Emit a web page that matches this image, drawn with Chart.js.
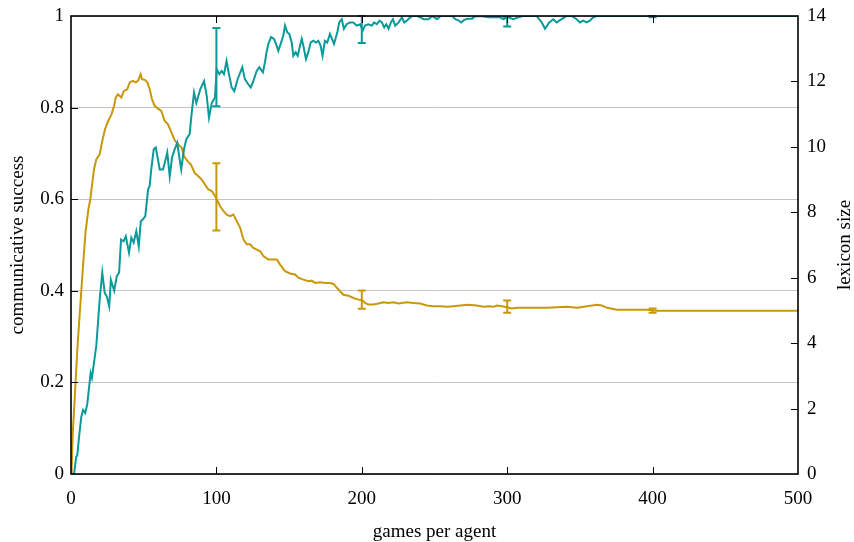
<!DOCTYPE html>
<html>
<head>
<meta charset="utf-8">
<script src="https://cdn.jsdelivr.net/npm/chart.js@4.4.0/dist/chart.umd.min.js"></script>
<style>
html,body{margin:0;padding:0;background:#fff;}
#wrap{width:854px;height:542px;}
</style>
</head>
<body>
<div id="wrap"><canvas id="c" width="854" height="542"></canvas></div>
<script>
// ---- data ----
const successGames = [0,2.1,3.6,4.3,5.5,7.1,8.3,9.8,11.2,13.5,14.4,17.4,19.7,21.5,23.2,24.6,26.3,27.4,29.7,31.5,33.1,34.4,36.2,37.7,39.9,41.5,43.1,44.9,46.6,48.0,49.5,51.1,53.0,54.1,55.2,56.9,58.3,59.8,61.0,63.3,65.1,66.2,67.9,69.5,71.3,73.1,74.7,75.8,77.7,79.3,81.6,82.8,84.6,86.2,88.9,91.5,93.3,94.9,96.8,99.0,100.2,102.0,103.6,105.2,107.0,108.2,110.5,112.3,114.6,117.8,119.6,121.9,123.6,125.4,127.7,129.5,132.0,133.4,134.5,135.7,137.6,139.6,141.0,142.6,144.2,146.0,147.2,148.8,150.1,151.8,152.9,154.5,155.9,157.5,158.7,159.8,161.6,163.2,164.8,166.6,168.5,170.1,171.7,173.0,174.6,176.2,178.1,180.9,183.2,184.5,186.2,187.7,189.6,191.9,194.2,196.5,198.8,200.6,202.2,204.5,206.9,208.5,210.3,212.2,213.8,215.4,216.8,218.4,220.0,221.4,223.0,225.3,227.6,229.2,231.1,233.4,234.6,238.0,240.3,242.6,246.0,248.3,251.8,254.1,262.1,264.4,266.7,268.3,270.2,272.5,275.9,277.5,281.6,287.0,295.0,297.3,300.7,304.2,307.6,311.0,320.2,323.7,326.0,328.9,331.7,334.0,337.4,340.9,344.3,347.8,350.0,352.3,354.6,356.9,359.2,361.5,500];
const successValues = [0,0,0.038,0.04,0.08,0.125,0.14,0.133,0.153,0.22,0.21,0.28,0.38,0.44,0.395,0.388,0.366,0.424,0.40,0.432,0.44,0.512,0.508,0.519,0.483,0.516,0.505,0.53,0.497,0.552,0.556,0.563,0.621,0.629,0.665,0.709,0.713,0.687,0.665,0.665,0.687,0.702,0.65,0.691,0.709,0.723,0.687,0.665,0.709,0.731,0.742,0.782,0.833,0.81,0.84,0.858,0.826,0.778,0.81,0.822,0.884,0.873,0.88,0.873,0.902,0.88,0.844,0.836,0.862,0.888,0.862,0.851,0.844,0.858,0.88,0.888,0.877,0.899,0.921,0.939,0.954,0.95,0.939,0.924,0.939,0.957,0.979,0.964,0.961,0.942,0.913,0.921,0.913,0.935,0.95,0.935,0.906,0.921,0.942,0.946,0.942,0.946,0.935,0.913,0.946,0.942,0.961,0.939,0.965,0.986,0.993,0.972,0.982,0.986,0.986,0.979,0.982,0.968,0.979,0.982,0.979,0.986,0.982,0.99,0.986,0.975,0.982,0.972,0.986,0.993,0.979,0.986,0.997,0.986,0.99,0.997,1,1,0.997,0.993,0.993,1,0.993,1,1,0.993,0.99,0.986,0.991,0.994,0.994,0.999,1,0.997,0.997,0.993,0.997,0.993,0.997,1,1,0.986,0.972,0.986,0.993,0.986,0.993,1,1,0.993,0.986,0.99,0.986,0.99,0.997,1,1];

const lexiconGames = [0,0.5,1.2,2.75,4.33,6.0,8.1,10.0,12.0,13.3,15.8,17.4,19.7,21.5,23.4,25.6,27.9,29.6,30.8,32.3,34.6,36.4,38.7,40.4,42.6,44.5,46.1,47.9,48.8,50.7,52.5,54.1,55.7,57.6,59.8,62.1,64.4,66.7,69.0,71.3,73.6,76.0,77.7,80.0,82.3,85.1,87.4,89.7,92.1,94.4,96.8,99.0,100.2,102.5,104.8,107.1,109.4,111.7,114.0,116.3,118.6,120.9,123.2,125.4,127.8,130.3,132.3,135.7,139.2,141.6,143.8,147.2,150.7,154.1,156.4,159.8,163.3,165.6,167.9,171.3,174.8,178.2,180.5,183.9,187.4,190.8,194.3,197.7,200.4,202.2,204.5,208.0,211.4,214.8,218.3,221.7,225.2,230.9,235.5,240.1,244.7,249.3,253.9,258.5,263.0,267.6,273.4,279.1,283.7,287.2,290.6,293.0,296.4,299.8,303.3,306.7,313.6,320.5,327.4,334.3,341.1,348.0,354.9,361.8,365.2,368.6,375.5,382.4,389.3,396.1,403.0,500];
const lexiconValues = [0,0.22,1.25,2.47,3.8,4.9,6.25,7.4,8.1,8.4,9.31,9.62,9.77,10.18,10.54,10.79,11.0,11.25,11.51,11.61,11.51,11.71,11.76,11.97,12.02,11.97,12.02,12.22,12.07,12.05,11.97,11.76,11.46,11.25,11.17,11.1,10.79,10.69,10.45,10.2,10.08,9.98,9.72,9.57,9.47,9.2,9.11,9.01,8.85,8.7,8.65,8.5,8.4,8.19,8.04,7.93,7.88,7.93,7.73,7.53,7.17,7.02,7.02,6.91,6.86,6.8,6.66,6.56,6.56,6.56,6.4,6.2,6.13,6.1,6.0,5.94,5.89,5.91,5.84,5.86,5.84,5.84,5.81,5.64,5.48,5.45,5.38,5.33,5.31,5.23,5.18,5.18,5.21,5.25,5.23,5.25,5.21,5.25,5.23,5.21,5.15,5.13,5.13,5.11,5.13,5.15,5.17,5.15,5.11,5.13,5.11,5.15,5.13,5.10,5.06,5.08,5.08,5.08,5.08,5.10,5.11,5.08,5.13,5.17,5.15,5.08,5.02,5.02,5.02,5.02,4.99,4.99];

const errorGames = [100,200,300,400];
const successLow  = [0.803,0.941,0.977,0.997];
const successHigh = [0.974,1.0,0.998,1.0];
const lexiconLow  = [7.44,5.05,4.93,4.93];
const lexiconHigh = [9.50,5.61,5.30,5.06];

const xTicks = [0,100,200,300,400,500];
const successTicks = [0,0.2,0.4,0.6,0.8,1];
const lexiconTicks = [0,2,4,6,8,10,12,14];

const tealColor = '#0a9a9a';
const goldColor = '#c9980a';
const FONT = {family:"'Liberation Serif', 'DejaVu Serif', serif", size:19};

const toPoints = (xs, ys) => xs.map((x, i) => ({x: x, y: ys[i]}));

const framePlugin = {
  id: 'frame',
  afterDatasetsDraw(chart) {
    const {ctx, chartArea: {left, right, top, bottom}, scales: {x, y, y2}} = chart;
    ctx.save();
    // error bars
    const drawErr = (scale, lows, highs, color) => {
      ctx.strokeStyle = color;
      ctx.lineWidth = 2;
      errorGames.forEach((g, i) => {
        const px = x.getPixelForValue(g);
        const p1 = scale.getPixelForValue(lows[i]);
        const p2 = scale.getPixelForValue(highs[i]);
        ctx.beginPath();
        ctx.moveTo(px, p1); ctx.lineTo(px, p2);
        ctx.moveTo(px - 4, p1); ctx.lineTo(px + 4, p1);
        ctx.moveTo(px - 4, p2); ctx.lineTo(px + 4, p2);
        ctx.stroke();
      });
    };
    drawErr(y2, lexiconLow, lexiconHigh, goldColor);
    drawErr(y, successLow, successHigh, tealColor);
    // frame
    ctx.strokeStyle = '#000';
    ctx.lineWidth = 1.6;
    ctx.strokeRect(left, top, right - left, bottom - top);
    // inward ticks
    ctx.lineWidth = 1;
    ctx.beginPath();
    xTicks.slice(1, -1).forEach(v => {
      const px = Math.round(x.getPixelForValue(v)) + 0.5;
      ctx.moveTo(px, bottom); ctx.lineTo(px, bottom - 7);
      ctx.moveTo(px, top); ctx.lineTo(px, top + 7);
    });
    successTicks.slice(1, -1).forEach(v => {
      const py = Math.round(y.getPixelForValue(v)) + 0.5;
      ctx.moveTo(left, py); ctx.lineTo(left + 7, py);
    });
    lexiconTicks.slice(1, -1).forEach(v => {
      const py = Math.round(y2.getPixelForValue(v)) + 0.5;
      ctx.moveTo(right, py); ctx.lineTo(right - 7, py);
    });
    ctx.stroke();
    // right axis title (reads bottom to top)
    ctx.fillStyle = '#000';
    ctx.font = FONT.size + 'px ' + FONT.family;
    ctx.translate(845, (top + bottom) / 2);
    ctx.rotate(-Math.PI / 2);
    ctx.textAlign = 'center';
    ctx.textBaseline = 'middle';
    ctx.fillText('lexicon size', 0, 0);
    ctx.restore();
  }
};

new Chart(document.getElementById('c'), {
  type: 'line',
  data: {
    datasets: [
      {label: 'communicative success', data: toPoints(successGames, successValues), yAxisID: 'y',
       borderColor: tealColor, borderWidth: 2, pointRadius: 0, tension: 0, fill: false},
      {label: 'lexicon size', data: toPoints(lexiconGames, lexiconValues), yAxisID: 'y2',
       borderColor: goldColor, borderWidth: 2, pointRadius: 0, tension: 0, fill: false}
    ]
  },
  options: {
    responsive: false,
    animation: false,
    devicePixelRatio: 1,
    layout: {padding: {top: 16, left: 0, right: 0, bottom: 0}},
    plugins: {legend: {display: false}, tooltip: {enabled: false}},
    scales: {
      x: {
        type: 'linear', position: 'bottom', min: 0, max: 500,
        afterBuildTicks: s => { s.ticks = xTicks.map(v => ({value: v})); },
        grid: {display: false, drawTicks: false},
        border: {display: false},
        ticks: {color: '#000', font: FONT, padding: 14, maxRotation: 0},
        title: {display: true, text: 'games per agent', color: '#000', font: FONT, padding: {top: 0, bottom: -1}},
        afterFit: s => { s.height = 68; s.paddingLeft = 0; s.paddingRight = 0; }
      },
      y: {
        type: 'linear', position: 'left', min: 0, max: 1,
        afterBuildTicks: s => { s.ticks = successTicks.map(v => ({value: v})); },
        grid: {color: '#c4c4c4', lineWidth: 1, drawTicks: false},
        border: {display: false},
        ticks: {color: '#000', font: FONT, padding: 7, callback: v => String(v)},
        title: {display: true, text: 'communicative success', color: '#000', font: FONT, padding: {top: 7, bottom: 0}},
        afterFit: s => { s.width = 71; s.paddingTop = 0; s.paddingBottom = 0; }
      },
      y2: {
        type: 'linear', position: 'right', min: 0, max: 14,
        afterBuildTicks: s => { s.ticks = lexiconTicks.map(v => ({value: v})); },
        grid: {display: false, drawTicks: false},
        border: {display: false},
        ticks: {color: '#000', font: FONT, padding: 9, callback: v => String(v)},
        title: {display: false},
        afterFit: s => { s.width = 56; s.paddingTop = 0; s.paddingBottom = 0; }
      }
    }
  },
  plugins: [framePlugin]
});
</script>
</body>
</html>
